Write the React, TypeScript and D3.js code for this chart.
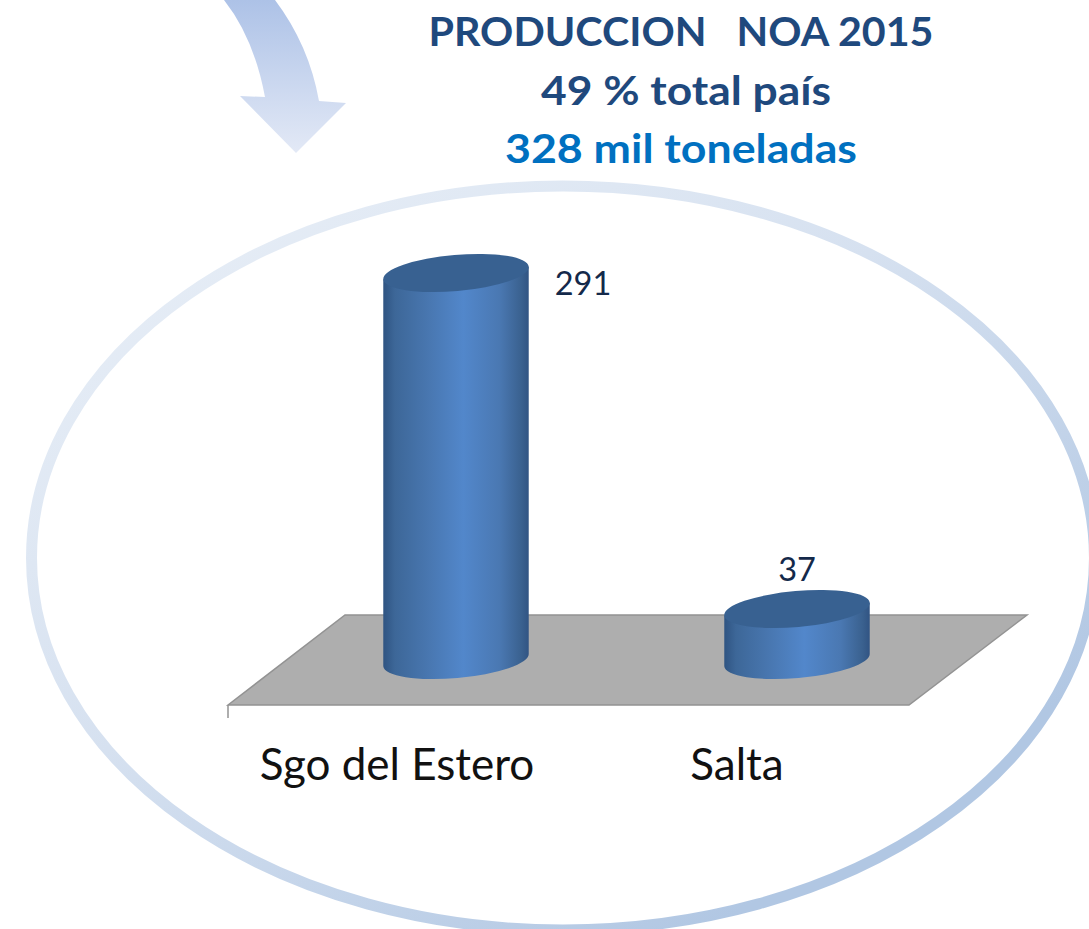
import React from "react";
import * as d3 from "d3";

const categories = ["Sgo del Estero", "Salta"];
const values = [291, 37];
const titleLines = ["PRODUCCION   NOA 2015", "49 % total país", "328 mil toneladas"];
const titleColors = ["#1f497d", "#1f497d", "#0070c0"];
const titleWidths = [505, 290, 352];
const titleCenters = [681, 686, 681];
const titleBaselines = [46, 105, 163];
const labelX = [397, 737];
const valueLabelDx = [127, 0];
const valueLabelDy = [22, -28];

const W = 1089, H = 929;
const x = d3.scalePoint<string>().domain(categories).range([456, 797]);
const y = d3.scaleLinear().domain([0, 291]).range([658, 273]);
const RX = 73, RY = 18, TILT = -5;
const rad = (TILT * Math.PI) / 180;
const dx = RX * Math.cos(rad), dy = RX * Math.sin(rad);

function cylPath(cx: number, top: number, base: number) {
  return `M${cx - dx},${top - dy} L${cx - dx},${base - dy} A${RX},${RY} ${TILT} 0 0 ${cx + dx},${base + dy} L${cx + dx},${top + dy} Z`;
}

const font = "Lato, Carlito, 'Open Sans', sans-serif";

export default function App() {
  return (
    <svg width={W} height={H} viewBox={`0 0 ${W} ${H}`} style={{ position: "fixed", left: 0, top: 0, display: "block", background: "#fff" }}>
      <defs>
        <linearGradient id="arrowG" x1="0" y1="0" x2="0" y2="1">
          <stop offset="0" stopColor="#adc2e7" />
          <stop offset="1" stopColor="#e3e9f6" />
        </linearGradient>
        <linearGradient id="ringG" x1="0.1" y1="0.1" x2="0.8" y2="0.85">
          <stop offset="0" stopColor="#e6edf6" />
          <stop offset="0.45" stopColor="#d6e1f0" />
          <stop offset="1" stopColor="#b1c7e3" />
        </linearGradient>
        <linearGradient id="cylG" x1="0" y1="0" x2="1" y2="0">
          <stop offset="0" stopColor="#2f5482" />
          <stop offset="0.08" stopColor="#3d6798" />
          <stop offset="0.3" stopColor="#4876af" />
          <stop offset="0.55" stopColor="#5287cb" />
          <stop offset="0.8" stopColor="#4a78b2" />
          <stop offset="0.95" stopColor="#3a618f" />
          <stop offset="1" stopColor="#315483" />
        </linearGradient>
      </defs>

      <path d="M224,0 Q254,38 265,97 L240,96 L296,153 L346,103 L319,101 Q309,45 275,0 Z" fill="url(#arrowG)" />

      <ellipse cx={563} cy={558} rx={531.5} ry={372} fill="none" stroke="url(#ringG)" strokeWidth={11} />

      {titleLines.map((t, i) => (
        <text key={t} x={titleCenters[i]} y={titleBaselines[i]} textAnchor="middle" xmlSpace="preserve" textLength={titleWidths[i]} lengthAdjust="spacingAndGlyphs" fontFamily={font} fontWeight={700} fontSize={41} fill={titleColors[i]}>
          {t}
        </text>
      ))}

      <polygon points="228,705 345,615 1027,615 909,705" fill="#aeaeae" stroke="#939393" strokeWidth={1.5} />
      <line x1={228} x2={228} y1={705} y2={718} stroke="#939393" strokeWidth={1.5} />

      {categories.map((c, i) => {
        const cx = x(c)!;
        const top = y(values[i]);
        const base = y(0) + 2;
        return (
          <g key={c}>
            <path d={cylPath(cx, top, base)} fill="url(#cylG)" />
            <ellipse cx={cx} cy={top} rx={RX} ry={RY} transform={`rotate(${TILT} ${cx} ${top})`} fill="#386191" />
            <text x={cx + valueLabelDx[i]} y={top + valueLabelDy[i]} textAnchor="middle" fontFamily={font} fontSize={32.5} fill="#14294a">
              {values[i]}
            </text>
            <text x={labelX[i]} y={780} textAnchor="middle" fontFamily={font} fontSize={44} fill="#111">
              {c}
            </text>
          </g>
        );
      })}
    </svg>
  );
}
